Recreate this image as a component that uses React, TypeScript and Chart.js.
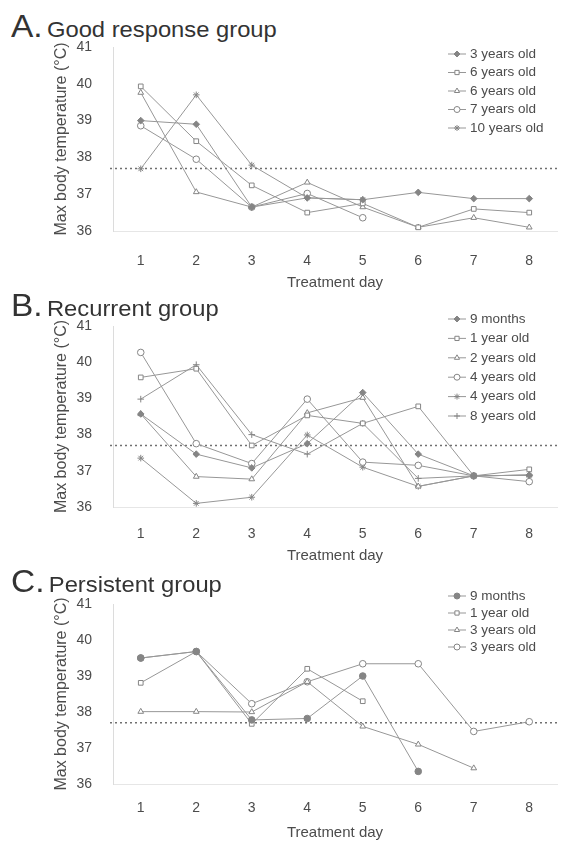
import React, { useEffect, useRef } from 'react';
import { Chart, registerables } from 'chart.js';
import { drawPoint } from 'chart.js/helpers';

Chart.register(...registerables);

// ---------- data ----------
const DAYS = ['1', '2', '3', '4', '5', '6', '7', '8'];
const Y_MIN = 36;
const Y_MAX = 41;
const FEVER_THRESHOLD = 37.7;

// A. Good response group
const A_LABELS = ['3 years old', '6 years old', '6 years old', '7 years old', '10 years old'];
const A_3Y = [39.0, 38.9, 36.65, 36.9, 36.85, 37.05, 36.88, 36.88];
const A_6Y_SQ = [39.93, 38.44, 37.24, 36.5, 36.75, 36.1, 36.6, 36.5];
const A_6Y_TRI = [39.76, 37.06, 36.65, 37.32, 36.65, 36.1, 36.36, 36.1];
const A_7Y = [38.86, 37.95, 36.65, 37.02, 36.36, null, null, null];
const A_10Y = [37.69, 39.7, 37.79, 36.9, 36.85, null, null, null];

// B. Recurrent group
const B_LABELS = ['9 months', '1 year old', '2 years old', '4 years old', '4 years old', '8 years old'];
const B_9M = [38.57, 37.46, 37.08, 37.75, 39.16, 37.46, 36.86, 36.88];
const B_1Y = [39.58, 39.82, 37.7, 38.53, 38.31, 38.78, 36.86, 37.04];
const B_2Y = [38.57, 36.84, 36.77, 38.6, 39.02, 36.57, 36.86, 36.88];
const B_4Y_CIRC = [40.27, 37.75, 37.2, 38.98, 37.24, 37.15, 36.86, 36.7];
const B_4Y_STAR = [37.35, 36.1, 36.27, 37.99, 37.1, 36.57, 36.86, 36.88];
const B_8Y = [38.98, 39.93, 38.0, 37.46, 38.31, 36.79, 36.86, 36.88];

// C. Persistent group
const C_LABELS = ['9 months', '1 year old', '3 years old', '3 years old'];
const C_9M = [39.5, 39.68, 37.78, 37.82, 39.0, 36.35, null, null];
const C_1Y = [38.81, 39.68, 37.67, 39.2, 38.3, null, null, null];
const C_3Y_TRI = [38.01, 38.01, 38.0, 38.84, 37.6, 37.1, 36.44, null];
const C_3Y_CIRC = [39.5, 39.68, 38.23, 38.84, 39.34, 39.34, 37.46, 37.73];

// ---------- styles ----------
const FONT = '"Liberation Sans", Arial, Helvetica, sans-serif';
const LINE = '#979797';
const MARK = '#858585';
const TEXT = '#4c4c4c';

type PanelCfg = {
  letter: string;
  name: string;
  top: number;
  height: number;
  padTop: number;
  xScaleH: number;
  tickPad: number;
  titlePadB: number;
  titleTop: number;
  legendY: number;
  legendGap: number;
  labels: string[];
  series: (number | null)[][];
  styles: string[];
  filled: boolean[];
};

const PANELS: PanelCfg[] = [
  {
    letter: 'A.', name: 'Good response group', top: 0, height: 292,
    padTop: 47, xScaleH: 61, tickPad: 22, titlePadB: 0, titleTop: 12,
    legendY: 54, legendGap: 18.5,
    labels: A_LABELS,
    series: [A_3Y, A_6Y_SQ, A_6Y_TRI, A_7Y, A_10Y],
    styles: ['rectRot', 'rect', 'triangle', 'circle', 'star'],
    filled: [true, false, false, false, false],
  },
  {
    letter: 'B.', name: 'Recurrent group', top: 292, height: 273,
    padTop: 34, xScaleH: 58, tickPad: 19, titlePadB: 0, titleTop: 291,
    legendY: 27, legendGap: 19.4,
    labels: B_LABELS,
    series: [B_9M, B_1Y, B_2Y, B_4Y_CIRC, B_4Y_STAR, B_8Y],
    styles: ['rectRot', 'rect', 'triangle', 'circle', 'star', 'cross'],
    filled: [true, false, false, false, false, false],
  },
  {
    letter: 'C.', name: 'Persistent group', top: 565, height: 277,
    padTop: 39, xScaleH: 58, tickPad: 16, titlePadB: 0, titleTop: 567,
    legendY: 31, legendGap: 17,
    labels: C_LABELS,
    series: [C_9M, C_1Y, C_3Y_TRI, C_3Y_CIRC],
    styles: ['circle', 'rect', 'triangle', 'circle'],
    filled: [true, false, false, false],
  },
];

const sideLegend = {
  id: 'sideLegend',
  afterDraw(chart: any, _args: any, opts: any) {
    const ctx = chart.ctx;
    ctx.save();
    chart.data.datasets.forEach((ds: any, i: number) => {
      const y = opts.y + i * opts.gap;
      const x = opts.x;
      ctx.strokeStyle = LINE;
      ctx.lineWidth = 1;
      ctx.setLineDash([]);
      ctx.beginPath();
      ctx.moveTo(x, y);
      ctx.lineTo(x + 18, y);
      ctx.stroke();
      ctx.fillStyle = ds.pointBackgroundColor;
      ctx.strokeStyle = ds.pointBorderColor;
      drawPoint(ctx, { pointStyle: ds.pointStyle, radius: 3, rotation: 0, borderWidth: 1 } as any, x + 9, y);
      ctx.fillStyle = TEXT;
      ctx.font = `13.5px ${FONT}`;
      ctx.textBaseline = 'middle';
      ctx.textAlign = 'left';
      ctx.fillText(ds.label, x + 22, y);
    });
    ctx.restore();
  },
};

const thresholdLine = {
  id: 'thresholdLine',
  beforeDatasetsDraw(chart: any, _args: any, opts: any) {
    const { ctx, chartArea, scales } = chart;
    const y = scales.y.getPixelForValue(opts.value);
    ctx.save();
    ctx.setLineDash([2, 3]);
    ctx.strokeStyle = '#707070';
    ctx.lineWidth = 1.4;
    ctx.beginPath();
    ctx.moveTo(chartArea.left - 3, y);
    ctx.lineTo(chartArea.right, y);
    ctx.stroke();
    ctx.restore();
  },
};

function Panel({ cfg }: { cfg: PanelCfg }) {
  const ref = useRef<HTMLCanvasElement | null>(null);
  useEffect(() => {
    if (!ref.current) return;
    const chart = new Chart(ref.current, {
      type: 'line',
      data: {
        labels: DAYS,
        datasets: cfg.series.map((data, i) => ({
          label: cfg.labels[i],
          data,
          borderColor: LINE,
          borderWidth: 1,
          pointStyle: cfg.styles[i] as any,
          pointRadius: 3.3,
          pointBorderWidth: 1,
          pointBorderColor: MARK,
          pointBackgroundColor: cfg.filled[i] ? MARK : '#ffffff',
          spanGaps: false,
          tension: 0,
        })),
      },
      options: {
        animation: false,
        responsive: false,
        layout: { padding: { top: cfg.padTop, left: 0, right: 0, bottom: 0 } },
        plugins: {
          legend: { display: false },
          tooltip: { enabled: false },
          title: { display: false },
          sideLegend: { x: 448, y: cfg.legendY, gap: cfg.legendGap },
          thresholdLine: { value: FEVER_THRESHOLD },
        } as any,
        scales: {
          x: {
            type: 'category',
            offset: true,
            grid: { display: false, drawTicks: false },
            border: { display: true, color: '#e6e6e6' },
            ticks: { color: TEXT, padding: cfg.tickPad, font: { family: FONT, size: 14 } },
            title: {
              display: true,
              text: 'Treatment day',
              color: TEXT,
              font: { family: FONT, size: 15 },
              padding: { top: 0, bottom: cfg.titlePadB },
            },
            afterFit: (s: any) => { s.height = cfg.xScaleH; },
          },
          y: {
            min: Y_MIN,
            max: Y_MAX,
            grid: { display: false, drawTicks: false },
            border: { display: true, color: '#dcdcdc' },
            ticks: { stepSize: 1, color: TEXT, padding: 21, font: { family: FONT, size: 14 } },
            title: {
              display: true,
              text: 'Max body temperature (°C)',
              color: TEXT,
              font: { family: FONT, size: 16 },
              padding: { top: 52, bottom: 0 },
            },
            afterFit: (s: any) => { s.width = 113; },
          },
        },
      },
      plugins: [sideLegend, thresholdLine],
    });
    return () => chart.destroy();
  }, [cfg]);

  return (
    <>
      <div
        style={{
          position: 'absolute', left: 11, top: cfg.titleTop, fontFamily: FONT,
          fontSize: 31, lineHeight: '30px', color: '#333', whiteSpace: 'nowrap',
          transform: 'scaleX(1.08)', transformOrigin: 'left center',
        }}
      >
        {cfg.letter}
        <span style={{ fontSize: 22, marginLeft: 4 }}>{cfg.name}</span>
      </div>
      <canvas
        ref={ref}
        width={562}
        height={cfg.height}
        style={{ position: 'absolute', left: 0, top: cfg.top, display: 'block' }}
      />
    </>
  );
}

export default function App() {
  return (
    <div style={{ position: 'absolute', left: 0, top: 0, width: 562, height: 842, background: '#fff', overflow: 'hidden' }}>
      {PANELS.map((p) => (
        <Panel key={p.letter} cfg={p} />
      ))}
    </div>
  );
}
